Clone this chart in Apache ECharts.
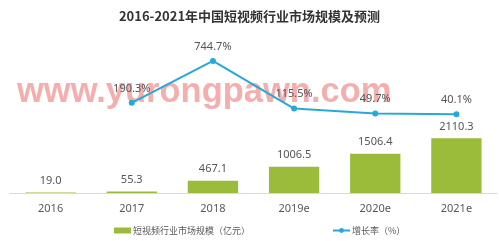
<!DOCTYPE html>
<html><head><meta charset="utf-8">
<script src="https://cdn.jsdelivr.net/npm/echarts@6/dist/echarts.min.js"></script>
<style>html,body{margin:0;padding:0;background:#fff}#c{width:499px;height:241px}</style>
</head><body><div id="c"></div>
<script>
const categories = ['2016','2017','2018','2019e','2020e','2021e'];
const marketSize = [19.0, 55.3, 467.1, 1006.5, 1506.4, 2110.3];
const growthRate = [null, 190.3, 744.7, 115.5, 49.7, 40.1];
const titleText = '2016-2021年中国短视频行业市场规模及预测';
const barName = '短视频行业市场规模（亿元）';
const lineName = '增长率（%）';
const watermark = 'www.yurongpawn.com';

const chart = echarts.init(document.getElementById('c'), null, {renderer:'canvas'});
chart.setOption({
  backgroundColor: '#fff',
  animation: false,
  title: {text: titleText, left: 'center', top: 5,
    textStyle: {fontSize: 13, fontWeight: 'bold', color: '#333', fontFamily: 'Noto Sans CJK SC'}},
  legend: {left: 109, top: 221, itemGap: 82, itemWidth: 17, itemHeight: 6,
    textStyle: {fontSize: 9, color: '#595959', fontFamily: 'Noto Sans CJK SC', padding: [0,0,0,-3]},
    data: [{name: barName, icon: 'rect'}, {name: lineName}]},
  grid: {left: 10, right: 2, top: 37, bottom: 48},
  xAxis: {type: 'category', data: categories,
    axisLine: {lineStyle: {color: '#d9d9d9'}}, axisTick: {show: false},
    axisLabel: {color: '#595959', fontSize: 11, margin: 10, fontFamily: 'Noto Sans'}},
  yAxis: [
    {type: 'value', min: 0, max: 6000, show: false, splitLine: {show: false}},
    {type: 'value', min: -1000, max: 1060, show: false, splitLine: {show: false}}
  ],
  series: [
    {name: barName, type: 'bar', data: marketSize, barWidth: '62%', yAxisIndex: 0,
      itemStyle: {color: '#9bbb3b'}, z: 2,
      label: {show: true, position: 'top', distance: 6, color: '#555', fontSize: 11,
        fontFamily: 'Noto Sans', formatter: p => p.value.toFixed(1)}},
    {name: lineName, type: 'line', data: growthRate, yAxisIndex: 1, z: 3,
      symbol: 'circle', symbolSize: 6,
      lineStyle: {color: '#29a8d8', width: 2}, itemStyle: {color: '#29a8d8'},
      label: {show: true, position: 'top', distance: 6, color: '#555', fontSize: 11,
        fontFamily: 'Noto Sans', formatter: p => p.value.toFixed(1) + '%'}}
  ],
  graphic: [{type: 'text', left: 17, top: 75, z: 0, silent: true,
    style: {text: watermark, fill: 'rgba(236,120,120,0.6)', font: 'bold 34.5px "Liberation Sans"'}}]
});
</script></body></html>
